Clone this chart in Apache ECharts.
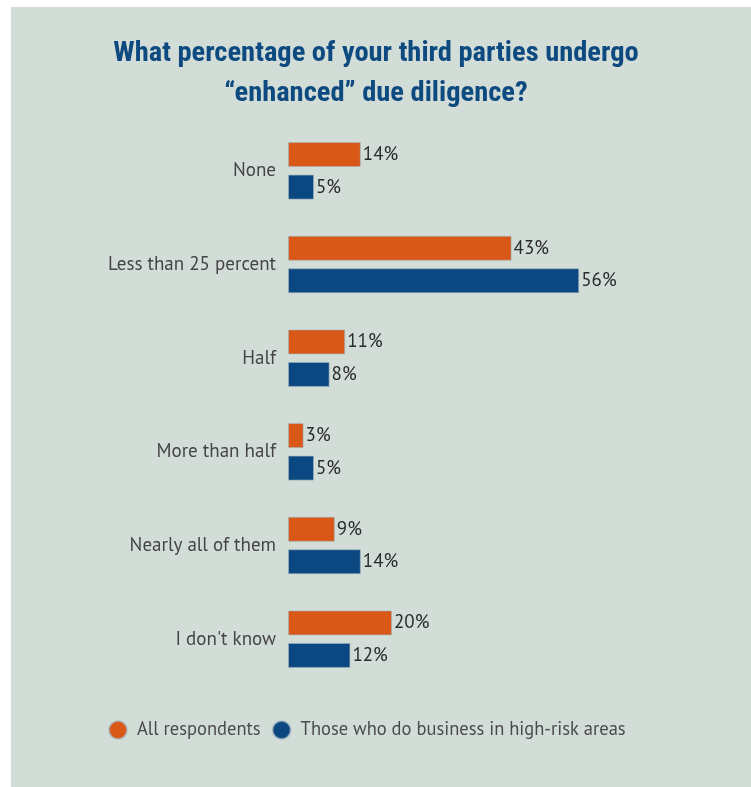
<!DOCTYPE html>
<html>
<head>
<meta charset="utf-8">
<script src="https://cdn.jsdelivr.net/npm/echarts@6/dist/echarts.min.js"></script>
<style>html,body{margin:0;padding:0;background:#fff;}#c{width:751px;height:787px;}</style>
</head>
<body>
<div id="c"></div>
<script>
const titleText = 'What percentage of your third parties undergo\n\u201Cenhanced\u201D due diligence?';
const categories = ['None', 'Less than 25 percent', 'Half', 'More than half', 'Nearly all of them', "I don't know"];
const seriesNames = ['All respondents', 'Those who do business in high-risk areas'];
const allRespondents = [14, 43, 11, 3, 9, 20];
const highRisk = [5, 56, 8, 5, 14, 12];

const ORANGE = '#d95817';
const BLUE = '#0b4781';
const chart = echarts.init(document.getElementById('c'), null, {renderer: 'canvas'});
const labelFont = '"PT Sans", "Noto Sans", "Open Sans", sans-serif';
function mkSeries(name, data, color) {
  return {
    name: name, type: 'bar', data: data, barWidth: 25, barGap: '30%',
    itemStyle: {color: color, borderColor: 'rgba(160,180,190,0.6)', borderWidth: 1},
    label: {show: true, position: 'right', distance: 2, formatter: '{c}%', color: '#2a2a2a', fontSize: 19, fontFamily: labelFont},
    emphasis: {disabled: true}
  };
}
chart.setOption({
  animation: false,
  backgroundColor: '#ffffff',
  graphic: [{type: 'rect', shape: {x: 11, y: 7, width: 740, height: 780}, style: {fill: '#d3ddd8'}, z: -10}],
  title: {
    text: titleText, left: 371, top: 29, textAlign: 'center',
    textStyle: {color: '#0d4a80', fontSize: 28.5, fontWeight: 'bold', fontFamily: '"Roboto Condensed", Roboto, sans-serif', lineHeight: 40}
  },
  legend: {
    left: 108, top: 720, padding: 0, itemWidth: 18, itemHeight: 18, icon: 'circle', itemGap: 11,
    textStyle: {color: '#4a4a4a', fontSize: 18.5, fontFamily: labelFont, padding: [0, 0, 0, 5]},
    data: seriesNames
  },
  grid: {left: 288, right: 151, top: 124, bottom: 101, containLabel: false},
  xAxis: {type: 'value', min: 0, max: 60, show: false},
  yAxis: {
    type: 'category', data: categories, inverse: true,
    axisLine: {show: false}, axisTick: {show: false}, splitLine: {show: false},
    axisLabel: {color: '#444', fontSize: 19, fontFamily: labelFont, margin: 12}
  },
  series: [mkSeries(seriesNames[0], allRespondents, ORANGE), mkSeries(seriesNames[1], highRisk, BLUE)]
});
</script>
</body>
</html>
